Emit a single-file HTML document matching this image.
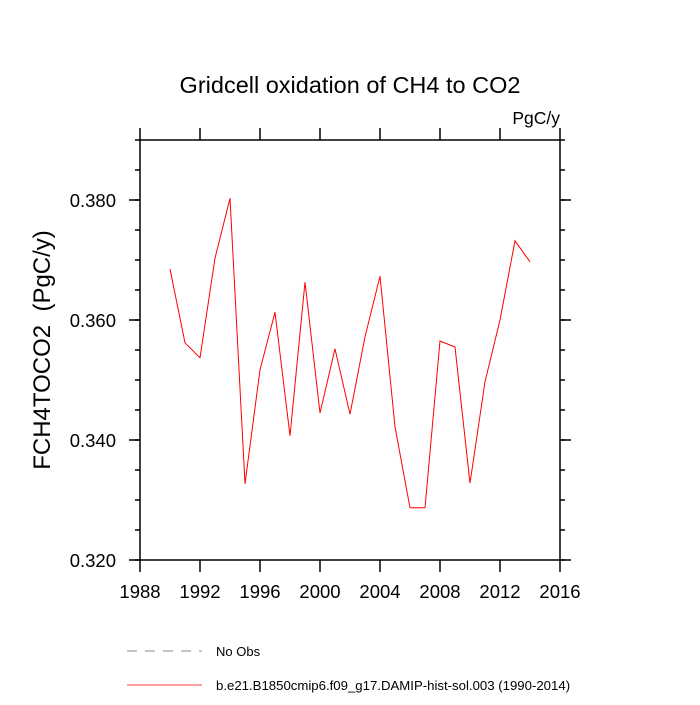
<!DOCTYPE html>
<html><head><meta charset="utf-8"><style>
body{margin:0;background:#fff}
svg text{font-family:"Liberation Sans",sans-serif}
</style></head><body>
<svg width="700" height="700" xmlns="http://www.w3.org/2000/svg">
<text x="350" y="93" font-size="23.5" text-anchor="middle">Gridcell oxidation of CH4 to CO2</text>
<text x="560" y="124" font-size="17.5" text-anchor="end">PgC/y</text>
<text transform="translate(50,350) rotate(-90)" font-size="24" text-anchor="middle">FCH4TOCO2&#160; (PgC/y)</text>
<g id="axes"></g>
<polyline id="series" fill="none" stroke="#ff0000" stroke-width="1"/>
<rect x="140" y="140" width="420" height="420" fill="none" stroke="#000" stroke-width="1.5"/>
<line x1="127" y1="651" x2="202" y2="651" stroke="#888" stroke-dasharray="10,8"/>
<text x="216" y="656" font-size="13">No Obs</text>
<line x1="127" y1="685" x2="202" y2="685" stroke="#ff0000" stroke-width="0.8"/>
<text x="216" y="690" font-size="13.2">b.e21.B1850cmip6.f09_g17.DAMIP-hist-sol.003 (1990-2014)</text>
</svg>
<script>
const years=[1990,1991,1992,1993,1994,1995,1996,1997,1998,1999,2000,2001,2002,2003,2004,2005,2006,2007,2008,2009,2010,2011,2012,2013,2014];
const values=[0.3685,0.3562,0.3537,0.3703,0.3803,0.3327,0.3517,0.3613,0.3407,0.3663,0.3445,0.3552,0.3443,0.3572,0.3673,0.3422,0.3287,0.3287,0.3565,0.3555,0.3328,0.3497,0.3600,0.3732,0.3697];
const xTicks=[1988,1992,1996,2000,2004,2008,2012,2016];
const yTicks=[0.320,0.340,0.360,0.380];
const yMinor=[0.320,0.325,0.330,0.335,0.340,0.345,0.350,0.355,0.360,0.365,0.370,0.375,0.380,0.385,0.390];
const X=v=>140+(v-1988)/28*420;
const Y=v=>560-(v-0.320)/0.070*420;
const NS="http://www.w3.org/2000/svg";
const g=document.getElementById('axes');
function ln(x1,y1,x2,y2,name){const l=document.createElementNS(NS,'line');
l.setAttribute('x1',x1);l.setAttribute('y1',y1);l.setAttribute('x2',x2);l.setAttribute('y2',y2);
l.setAttribute('stroke','#000');l.setAttribute('stroke-width','1.5');


g.appendChild(l);}
function tx(x,y,s,anchor,name){const t=document.createElementNS(NS,'text');
t.setAttribute('x',x);t.setAttribute('y',y);t.setAttribute('font-size','18.5');t.setAttribute('text-anchor',anchor);t.textContent=s;


g.appendChild(t);}
xTicks.forEach(v=>{const x=X(v);ln(x,560,x,572,'x-tick');ln(x,140,x,128,'x-tick-top');tx(x,598,String(v),'middle','x-tick-label');});
yMinor.forEach(v=>{const y=Y(v);ln(140,y,135,y,'y-minor-tick');ln(560,y,565,y,'y-minor-tick-right');});
yTicks.forEach(v=>{const y=Y(v);ln(140,y,129,y,'y-tick');ln(560,y,571,y,'y-tick-right');tx(116,y+7,v.toFixed(3),'end','y-tick-label');});
document.getElementById('series').setAttribute('points',years.map((yr,i)=>X(yr)+','+Y(values[i])).join(' '));
</script>
</body></html>
